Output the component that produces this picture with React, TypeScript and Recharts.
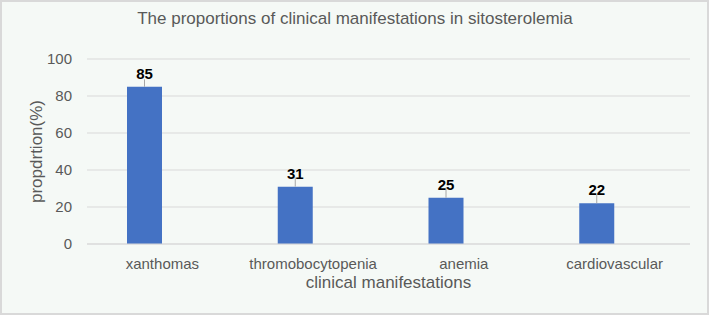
import { BarChart, Bar, XAxis, YAxis, CartesianGrid, LabelList, ErrorBar } from 'recharts';

const categories = ['xanthomas', 'thromobocytopenia', 'anemia', 'cardiovascular'];
const proportions = [85, 31, 25, 22];
const errors = [4, 5, 5.5, 4.5];
const yTicks = [0, 20, 40, 60, 80, 100];

const data = categories.map((name, i) => ({
  name,
  value: proportions[i],
  err: [0, errors[i]],
}));

const font = '"Liberation Sans", Arial, sans-serif';
const grey = '#595959';

export default function App() {
  return (
    <div style={{ position: 'absolute', left: 0, top: 0, width: 710, height: 317, background: '#fff', fontFamily: font }}>
      <div
        style={{
          position: 'absolute',
          left: 0,
          top: 0,
          width: 709,
          height: 315,
          boxSizing: 'border-box',
          border: '2px solid #d9d9d9',
          background: '#f5f9f6',
        }}
      />
      <div
        style={{
          position: 'absolute',
          left: 0,
          top: 9,
          width: 710,
          textAlign: 'center',
          fontSize: 17,
          lineHeight: '20px',
          color: grey,
        }}
      >
        The proportions of clinical manifestations in sitosterolemia
      </div>
      <div style={{ position: 'absolute', left: 0, top: 0 }}>
        <BarChart
          width={710}
          height={317}
          data={data}
          margin={{ top: 59, right: 20, bottom: 23, left: 0 }}
          barSize={35}
          barGap={0}
          style={{ fontFamily: font }}
        >
          <CartesianGrid vertical={false} stroke="#d9d9d9" />
          <XAxis
            dataKey="name"
            height={50}
            tickLine={false}
            tickSize={0}
            tickMargin={14}
            axisLine={{ stroke: '#d9d9d9' }}
            tick={{ fill: grey, fontSize: 15 }}
            label={{ value: 'clinical manifestations', position: 'insideBottom', offset: 6, fill: grey, fontSize: 17 }}
          />
          <YAxis
            width={87}
            domain={[0, 100]}
            ticks={yTicks}
            axisLine={false}
            tickLine={false}
            tickSize={0}
            tickMargin={15}
            tick={{ fill: grey, fontSize: 15 }}
            label={{ value: 'propdrtion(%)', angle: -90, position: 'center', dx: -8, fill: grey, fontSize: 17 }}
          />
          <Bar dataKey="value" fill="#4472c4" isAnimationActive={false}>
            <ErrorBar dataKey="err" width={0} stroke="#a6a6a6" strokeWidth={1} direction="y" />
            <LabelList dataKey="value" position="top" offset={8} fill="#000" fontSize={15} fontWeight="bold" />
          </Bar>
          <Bar dataKey="blank" fill="transparent" isAnimationActive={false} />
        </BarChart>
      </div>
    </div>
  );
}
